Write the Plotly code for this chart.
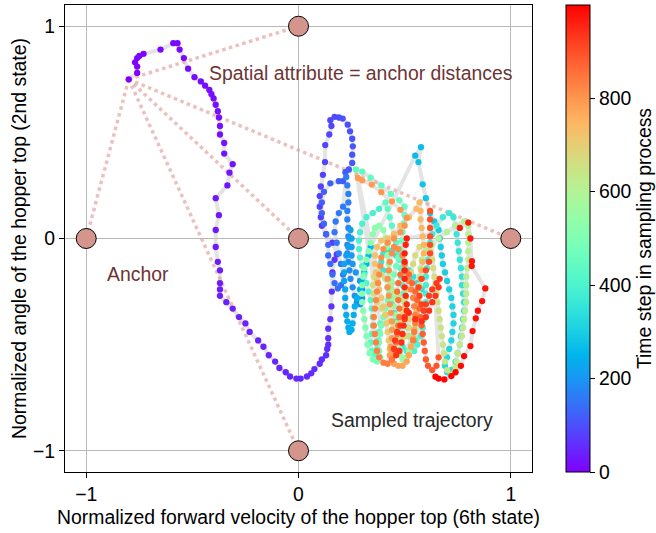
import numpy as np
import plotly.graph_objects as go

# ---------------- data ----------------
anchor_x = [-1, 0, 0, 0, 1]
anchor_y = [0, 1, 0, -1, 0]

# purple start of the trajectory
P_x = [-0.80,-0.76,-0.76,-0.77,-0.76,-0.75,-0.73,-0.65,-0.59,-0.57,-0.56,-0.54,-0.52,-0.49,-0.46,-0.44,-0.42,-0.41,-0.40,-0.39,
       -0.38,-0.375,-0.37,-0.37,-0.35,-0.35,-0.31,-0.325,-0.335,-0.39,-0.375,-0.39,-0.39,-0.38,-0.37,-0.37,-0.37,-0.37,-0.34,-0.31,
       -0.28,-0.25,-0.23,-0.19,-0.165,-0.14,-0.11,-0.09,-0.06,-0.04,-0.01,0.01,0.04,0.06,0.075,0.10,0.11,0.13,0.135,0.14,
       0.14,0.14,0.15,0.155,0.157,0.16,0.17,0.18]
P_y = [0.75,0.78,0.81,0.83,0.85,0.86,0.87,0.89,0.92,0.92,0.89,0.85,0.80,0.76,0.74,0.72,0.70,0.68,0.66,0.63,
       0.60,0.57,0.53,0.49,0.45,0.40,0.35,0.31,0.25,0.19,0.11,0.04,-0.04,-0.11,-0.15,-0.21,-0.24,-0.27,-0.30,-0.33,
       -0.37,-0.40,-0.44,-0.48,-0.51,-0.55,-0.58,-0.61,-0.63,-0.65,-0.66,-0.66,-0.65,-0.635,-0.615,-0.59,-0.57,-0.55,-0.52,-0.50,
       -0.47,-0.425,-0.38,-0.32,-0.25,-0.16,-0.10,-0.075]
P_t = [0,1,2,3,4,5,6,7,8,9,10,11,12,13,14,15,16,17,18,19,20,21,22,23,24,25,26,27,28,29,30,31,32,33,
       34,35,36,37,38,39,40,41,42,43,44,45,46,47,48,49,50,51,52,53,54,55,56,57,58,59,60,61,62,63,64,65,66,67]

# indigo loop
I1_x = [0.16,0.13,0.11,0.105,0.10,0.10,0.105,0.115,0.125,0.126,0.145,0.155,0.15,0.17,0.19,0.208,0.232,0.243,0.253,0.256,0.253,0.253,0.237,0.221]
I1_y = [-0.02,0.02,0.06,0.10,0.15,0.20,0.245,0.30,0.36,0.44,0.49,0.53,0.557,0.573,0.57,0.565,0.536,0.505,0.47,0.434,0.395,0.356,0.325,0.312]
I1_t = [68,70,72,74,76,78,80,82,84,86,88,90,92,94,96,98,100,102,104,106,108,110,112,114]

I2_x = [0.21,0.19,0.15,0.12,0.11,0.11,0.12,0.13,0.14,0.14,0.15,0.16,0.17,0.185,0.20,0.21,0.20,0.19,0.18,0.17,0.175,0.19,0.21]
I2_y = [0.27,0.27,0.26,0.22,0.17,0.12,0.07,0.02,-0.03,-0.08,-0.12,-0.17,-0.21,-0.235,-0.22,-0.17,-0.12,-0.07,-0.02,0.03,0.08,0.12,0.15]
I2_t = [116,118,120,122,124,126,128,130,132,134,136,138,140,142,144,146,148,150,152,154,156,158,160]

A_x = [0.225,0.23,0.235,0.235,0.23,0.23,0.235,0.235,0.23,0.23,0.235,0.24,0.245,0.255,0.265,0.275,0.29,0.30,0.30,0.29,0.27,0.255,0.25,0.25,0.25]
A_y = [0.29,0.25,0.21,0.17,0.13,0.09,0.05,0.01,-0.03,-0.07,-0.11,-0.15,-0.19,-0.23,-0.27,-0.30,-0.31,-0.28,-0.24,-0.20,-0.16,-0.12,-0.08,-0.04,0.0]
A_t = [162,164,166,168,170,172,174,176,178,180,182,184,186,188,190,192,194,196,198,200,202,204,206,208,210]

B_x = [0.245,0.24,0.235,0.225,0.215,0.215,0.215,0.22,0.22,0.22,0.225,0.23,0.235,0.24,0.25,0.255,0.26,0.265,0.275,0.29,0.30,0.31,0.32,0.33,0.34]
B_y = [0.04,0.0,-0.04,-0.08,-0.12,-0.16,-0.20,-0.24,-0.28,-0.32,-0.36,-0.39,-0.42,-0.44,-0.43,-0.40,-0.36,-0.32,-0.28,-0.24,-0.20,-0.16,-0.12,-0.08,-0.04]
B_t = [212,214,216,218,220,222,224,226,228,230,232,234,236,238,240,242,244,246,248,250,252,254,256,258,260]

C_x = [0.55,0.577,0.565,0.585,0.60]
C_y = [0.39,0.43,0.36,0.255,0.19]
C_t = [264,268,272,278,284]

H1_x = [0.62,0.64,0.66,0.665,0.67,0.675,0.68,0.69,0.70,0.71,0.72,0.725,0.73,0.73,0.725,0.72,0.71,0.70,0.69,0.70,0.72,0.74,0.75,0.76,0.765]
H1_y = [0.12,0.08,0.04,0.0,-0.04,-0.08,-0.12,-0.16,-0.20,-0.24,-0.28,-0.32,-0.36,-0.40,-0.44,-0.48,-0.52,-0.56,-0.60,-0.63,-0.62,-0.58,-0.54,-0.50,-0.46]
H1_t = [288,290,292,294,296,298,300,302,304,306,308,310,312,314,316,318,320,322,324,326,328,330,332,334,336]

H2_x = [0.77,0.775,0.78,0.78,0.775,0.77,0.77,0.765,0.76,0.755,0.75,0.745,0.74,0.73,0.71,0.68,0.65,0.63,0.62,0.615,0.61,0.605,0.60,0.60,0.60]
H2_y = [-0.42,-0.38,-0.34,-0.30,-0.26,-0.22,-0.18,-0.14,-0.10,-0.06,-0.02,0.02,0.06,0.10,0.12,0.10,0.06,0.02,-0.02,-0.06,-0.10,-0.14,-0.18,-0.22,-0.26]
H2_t = [338,340,342,344,346,348,350,352,354,356,358,360,362,364,366,368,370,372,374,376,378,380,382,384,386]

N3_x = [0.58,0.56,0.54,0.52,0.50,0.48,0.46,0.44,0.42,0.40,0.39,0.40,0.41,0.42,0.43,0.44,0.45,0.46,0.47,0.48,0.49,0.51,0.53,0.55]
N3_y = [-0.24,-0.21,-0.18,-0.15,-0.12,-0.10,-0.08,-0.06,-0.05,-0.07,-0.11,-0.15,-0.19,-0.23,-0.27,-0.31,-0.35,-0.39,-0.43,-0.47,-0.51,-0.53,-0.51,-0.48]
N3_t = [339,341,343,345,347,349,351,353,355,357,359,361,363,365,367,369,371,373,375,377,379,381,383,385]

H3_x = [0.60,0.595,0.59,0.585,0.575,0.56,0.545,0.53,0.52,0.515,0.51,0.505,0.50,0.495,0.49,0.485,0.48,0.475,0.47,0.46,0.45,0.44,0.43,0.42,0.41]
H3_y = [-0.30,-0.34,-0.38,-0.42,-0.46,-0.50,-0.53,-0.50,-0.46,-0.42,-0.38,-0.34,-0.30,-0.26,-0.22,-0.18,-0.14,-0.10,-0.06,-0.02,0.02,0.06,0.10,0.14,0.17]
H3_t = [388,390,392,394,396,398,400,402,404,406,408,410,412,414,416,418,420,422,424,426,428,430,432,434,436]

N1_x = [0.38,0.35,0.32,0.30,0.29,0.285,0.285,0.29,0.30,0.31,0.32,0.33,0.34,0.345,0.35,0.35,0.345,0.34,0.345,0.36,0.37,0.375,0.38,0.385]
N1_y = [0.14,0.12,0.10,0.07,0.03,-0.01,-0.05,-0.09,-0.13,-0.17,-0.21,-0.25,-0.29,-0.33,-0.37,-0.41,-0.45,-0.49,-0.53,-0.55,-0.52,-0.48,-0.44,-0.40]
N1_t = [389,391,393,395,397,399,401,403,405,407,409,411,413,415,417,419,421,423,425,427,429,431,433,435]

H4_x = [0.27,0.30,0.34,0.39,0.435,0.475,0.50,0.50,0.495,0.49,0.485,0.48,0.47,0.46,0.45,0.44,0.43,0.42,0.41,0.40,0.39,0.385,0.38,0.38,0.385]
H4_y = [0.325,0.315,0.287,0.25,0.21,0.18,0.15,0.11,0.07,0.03,-0.01,-0.05,-0.09,-0.13,-0.17,-0.21,-0.25,-0.29,-0.33,-0.37,-0.41,-0.45,-0.49,-0.53,-0.56]
H4_t = [438,440,442,444,446,448,450,452,454,456,458,460,462,464,466,468,470,472,474,476,478,480,482,484,486]

H5_x = [0.37,0.35,0.335,0.325,0.32,0.315,0.31,0.305,0.30,0.30,0.30,0.305,0.31,0.32,0.33,0.34,0.35,0.36,0.38,0.40,0.41,0.415,0.42,0.425,0.43]
H5_y = [-0.58,-0.57,-0.54,-0.50,-0.46,-0.42,-0.38,-0.34,-0.30,-0.26,-0.22,-0.18,-0.14,-0.10,-0.06,-0.02,0.02,0.05,0.06,0.04,0.0,-0.04,-0.08,-0.12,-0.16]
H5_t = [488,490,492,494,496,498,500,502,504,506,508,510,512,514,516,518,520,522,524,526,528,530,532,534,536]

H6_x = [0.435,0.44,0.445,0.45,0.455,0.46,0.465,0.47,0.475,0.48,0.49,0.50,0.51,0.52,0.53,0.54,0.55,0.555,0.56,0.565,0.565,0.57,0.57,0.575,0.58]
H6_y = [-0.20,-0.24,-0.28,-0.32,-0.36,-0.40,-0.44,-0.48,-0.52,-0.55,-0.57,-0.58,-0.56,-0.53,-0.50,-0.46,-0.42,-0.38,-0.34,-0.30,-0.26,-0.22,-0.18,-0.14,-0.10]
H6_t = [538,540,542,544,546,548,550,552,554,556,558,560,562,564,566,568,570,572,574,576,578,580,582,584,586]

H7_x = [0.60,0.63,0.66,0.70,0.74,0.78,0.80,0.80,0.80,0.80,0.80,0.795,0.79,0.79,0.79,0.79,0.785,0.78,0.775,0.77,0.76,0.75,0.745,0.74,0.735]
H7_y = [-0.06,-0.03,0.0,0.03,0.06,0.08,0.06,0.02,-0.02,-0.06,-0.10,-0.14,-0.18,-0.22,-0.26,-0.30,-0.34,-0.38,-0.42,-0.46,-0.50,-0.54,-0.58,-0.61,-0.63]
H7_t = [588,590,592,594,596,598,600,602,604,606,608,610,612,614,616,618,620,622,624,626,628,630,632,634,636]

H8_x = [0.72,0.70,0.69,0.685,0.68,0.675,0.67,0.665,0.66,0.655,0.65,0.645,0.64,0.635,0.63,0.62,0.60,0.57,0.55,0.54,0.53,0.52,0.51,0.505,0.50]
H8_y = [-0.64,-0.62,-0.58,-0.54,-0.50,-0.46,-0.42,-0.38,-0.34,-0.30,-0.26,-0.22,-0.18,-0.14,-0.10,-0.06,-0.03,-0.04,-0.08,-0.12,-0.16,-0.20,-0.24,-0.28,-0.32]
H8_t = [638,640,642,644,646,648,650,652,654,656,658,660,662,664,666,668,670,672,674,676,678,680,682,684,686]

N4_x = [0.49,0.47,0.45,0.43,0.41,0.39,0.37,0.355,0.35,0.355,0.37,0.39,0.41,0.43,0.45,0.47,0.49,0.51,0.52,0.52,0.51,0.50]
N4_y = [-0.29,-0.27,-0.25,-0.22,-0.19,-0.17,-0.16,-0.18,-0.22,-0.26,-0.30,-0.33,-0.36,-0.39,-0.42,-0.45,-0.47,-0.46,-0.42,-0.38,-0.35,-0.34]
N4_t = [643,645,647,649,651,653,655,657,659,661,663,665,667,669,671,673,675,677,679,681,683,685]

H9_x = [0.49,0.48,0.47,0.46,0.45,0.44,0.43,0.425,0.42,0.415,0.41,0.40,0.39,0.38,0.37,0.365,0.36,0.36,0.37,0.39,0.42,0.45,0.48,0.52,0.555]
H9_y = [-0.36,-0.40,-0.44,-0.48,-0.52,-0.55,-0.52,-0.48,-0.44,-0.40,-0.36,-0.32,-0.28,-0.24,-0.20,-0.16,-0.12,-0.08,-0.04,-0.01,0.0,0.02,0.06,0.10,0.14]
H9_t = [688,690,692,694,696,698,700,702,704,706,708,710,712,714,716,718,720,722,724,726,728,730,732,734,736]

H10_x = [0.57,0.575,0.575,0.58,0.585,0.59,0.59,0.585,0.58,0.575,0.57,0.565,0.56,0.555,0.55,0.545,0.54,0.53,0.52,0.51,0.49,0.47,0.45,0.44,0.435]
H10_y = [0.17,0.13,0.09,0.05,0.01,-0.03,-0.07,-0.11,-0.15,-0.19,-0.23,-0.27,-0.31,-0.35,-0.39,-0.43,-0.47,-0.51,-0.55,-0.58,-0.60,-0.60,-0.59,-0.56,-0.52]
H10_t = [738,740,742,744,746,748,750,752,754,756,758,760,762,764,766,768,770,772,774,776,778,780,782,784,786]

H11_x = [0.28,0.30,0.345,0.39,0.44,0.48,0.51,0.50,0.48,0.45,0.42,0.40,0.39,0.385,0.38,0.375,0.37,0.365,0.36,0.355,0.355,0.36,0.365,0.37,0.38,0.40,0.42]
H11_y = [0.285,0.274,0.254,0.218,0.175,0.135,0.097,0.06,0.03,0.0,-0.02,-0.05,-0.09,-0.13,-0.17,-0.21,-0.25,-0.29,-0.33,-0.37,-0.41,-0.45,-0.49,-0.53,-0.56,-0.585,-0.59]
H11_t = [788,790,792,794,796,798,800,802,804,806,808,810,812,814,816,818,820,822,824,826,828,830,832,834,836,838,840]

N2_x = [0.43,0.435,0.44,0.44,0.44,0.435,0.43,0.425,0.42,0.42,0.425,0.43,0.44,0.45,0.47,0.49,0.50,0.51,0.52,0.53,0.54,0.545,0.55,0.55,0.545,0.54]
N2_y = [-0.55,-0.51,-0.47,-0.43,-0.39,-0.35,-0.31,-0.27,-0.23,-0.19,-0.15,-0.11,-0.07,-0.04,-0.05,-0.08,-0.12,-0.16,-0.20,-0.24,-0.28,-0.32,-0.36,-0.40,-0.44,-0.48]
N2_t = [789,791,793,795,797,799,801,803,805,807,809,811,813,815,817,819,821,823,825,827,829,831,833,835,837,839]

H12_x = [0.44,0.455,0.46,0.465,0.47,0.475,0.475,0.47,0.465,0.47,0.48,0.50,0.52,0.535,0.55,0.56,0.57,0.575,0.58,0.585,0.59,0.595,0.60,0.61,0.63,0.65,0.66]
H12_y = [-0.57,-0.53,-0.49,-0.45,-0.41,-0.37,-0.33,-0.29,-0.25,-0.21,-0.17,-0.15,-0.17,-0.21,-0.25,-0.29,-0.33,-0.37,-0.41,-0.45,-0.49,-0.53,-0.57,-0.60,-0.62,-0.60,-0.56]
H12_t = [842,844,846,848,850,852,854,856,858,860,862,864,866,868,870,872,874,876,878,880,882,884,886,888,890,892,894]

H13_x = [0.62,0.62,0.62,0.62,0.62,0.62,0.615,0.60,0.58,0.565,0.57,0.58,0.59,0.60,0.615,0.63,0.65,0.665,0.66,0.645,0.63,0.615,0.60,0.58,0.55,0.52]
H13_y = [0.13,0.09,0.05,0.01,-0.03,-0.07,-0.11,-0.15,-0.19,-0.23,-0.27,-0.31,-0.34,-0.31,-0.27,-0.24,-0.21,-0.19,-0.23,-0.27,-0.30,-0.34,-0.37,-0.39,-0.38,-0.35]
H13_t = [896,898,900,902,904,906,908,910,912,914,916,918,920,922,924,926,928,930,932,934,936,938,940,942,944,946]

N5_x = [0.50,0.48,0.465,0.455,0.45,0.46,0.475,0.485,0.49,0.495,0.50,0.51]
N5_y = [-0.38,-0.41,-0.44,-0.48,-0.52,-0.55,-0.53,-0.49,-0.45,-0.41,-0.37,-0.34]
N5_t = [925,927,929,931,933,935,937,939,941,943,945,947]

H14_x = [0.51,0.505,0.50,0.50,0.50,0.50,0.50,0.505,0.51,0.76,0.80,0.81,0.817,0.816,0.88,0.865,0.845,0.835,0.82,0.81,0.78,0.765,0.74,0.72,0.687,0.66,0.645]
H14_y = [-0.31,-0.27,-0.23,-0.19,-0.15,-0.11,-0.07,-0.03,0.0,0.05,0.075,0.0,-0.107,-0.13,-0.235,-0.295,-0.34,-0.376,-0.436,-0.507,-0.554,-0.60,-0.63,-0.648,-0.664,-0.66,-0.651]
H14_t = [948,950,952,954,956,958,960,962,964,966,968,970,972,974,976,978,980,982,984,986,988,990,992,994,996,998,999]

x_tick_vals = [-1, 0, 1]
x_tick_text = ["\u22121", "0", "1"]
y_tick_vals = [-1, 0, 1]
y_tick_text = ["\u22121", "0", "1"]
cbar_ticks = [0, 200, 400, 600, 800]

# ---------------- assemble (path order) ----------------
segs = [(P_x, P_y, P_t), (I1_x, I1_y, I1_t), (I2_x, I2_y, I2_t), (A_x, A_y, A_t), (B_x, B_y, B_t),
        (C_x, C_y, C_t), (H1_x, H1_y, H1_t), (H2_x, H2_y, H2_t), (N3_x, N3_y, N3_t), (H3_x, H3_y, H3_t),
        (N1_x, N1_y, N1_t), (H4_x, H4_y, H4_t), (H5_x, H5_y, H5_t), (H6_x, H6_y, H6_t), (H7_x, H7_y, H7_t),
        (H8_x, H8_y, H8_t), (N4_x, N4_y, N4_t), (H9_x, H9_y, H9_t), (H10_x, H10_y, H10_t),
        (H11_x, H11_y, H11_t), (N2_x, N2_y, N2_t), (H12_x, H12_y, H12_t), (H13_x, H13_y, H13_t),
        (N5_x, N5_y, N5_t), (H14_x, H14_y, H14_t)]
traj_x, traj_y, traj_t = [], [], []
for sx, sy, st in segs:
    assert len(sx) == len(sy) == len(st)
    traj_x += sx
    traj_y += sy
    traj_t += st


def rainbow(v):
    r = min(1.0, abs(2 * v - 0.5))
    g = np.sin(np.pi * v)
    b = np.cos(np.pi * v / 2)
    return "rgb(%d,%d,%d)" % (round(255 * r), round(255 * max(g, 0)), round(255 * max(b, 0)))


cscale = [[float(v), rainbow(float(v))] for v in np.linspace(0, 1, 41)]

FONT = "Liberation Sans, Arial, sans-serif"
FS = 19.4

fig = go.Figure()

# trajectory line
fig.add_trace(go.Scatter(x=traj_x, y=traj_y, mode="lines",
                         line=dict(color="rgba(205,205,205,0.55)", width=4),
                         hoverinfo="skip", showlegend=False))

# dotted anchor-distance lines from the start point
dx, dy = [], []
for ax_, ay_ in zip(anchor_x, anchor_y):
    dx += [traj_x[0], ax_, None]
    dy += [traj_y[0], ay_, None]
fig.add_trace(go.Scatter(x=dx, y=dy, mode="lines",
                         line=dict(color="rgba(222,160,155,0.65)", width=3.5, dash="dot"),
                         hoverinfo="skip", showlegend=False))

# sampled points
fig.add_trace(go.Scatter(
    x=traj_x, y=traj_y, mode="markers",
    marker=dict(size=6.3, color=traj_t, colorscale=cscale, cmin=0, cmax=999,
                line=dict(width=0),
                colorbar=dict(x=(566 - 65) / 467, xanchor="left", y=0.5, yanchor="middle",
                              len=1, lenmode="fraction", thickness=24,
                              outlinecolor="black", outlinewidth=1,
                              xpad=0, ypad=0,
                              tickvals=cbar_ticks, ticks="outside", ticklen=5,
                              tickcolor="black",
                              tickfont=dict(family=FONT, size=FS, color="black"),
                              title=dict(text="Time step in sampling process", side="right",
                                         font=dict(family=FONT, size=FS, color="black")))),
    showlegend=False))

# anchors
fig.add_trace(go.Scatter(x=anchor_x, y=anchor_y, mode="markers",
                         marker=dict(size=20, color="#d4958d", line=dict(color="black", width=1)),
                         showlegend=False))

fig.add_annotation(x=-0.43, y=0.78, xref="x", yref="y", text="Spatial attribute = anchor distances",
                   showarrow=False, xanchor="left", yanchor="middle",
                   font=dict(family=FONT, size=FS, color="#6e3434"))
fig.add_annotation(x=-0.913, y=-0.165, xref="x", yref="y", text="Anchor",
                   showarrow=False, xanchor="left", yanchor="middle",
                   font=dict(family=FONT, size=FS, color="#6e3434"))
fig.add_annotation(x=0.146, y=-0.856, xref="x", yref="y", text="Sampled trajectory",
                   showarrow=False, xanchor="left", yanchor="middle",
                   font=dict(family=FONT, size=FS, color="#2a2a2a"))

axis_common = dict(range=[-1.1, 1.1], showgrid=True, gridcolor="#b8b8b8", gridwidth=1,
                   zeroline=False, showline=True, linecolor="black", linewidth=1.2, mirror=True,
                   ticks="outside", ticklen=5, tickcolor="black",
                   tickfont=dict(family=FONT, size=FS, color="black"))

fig.update_layout(
    width=656, height=533,
    margin=dict(l=65, r=124, t=5, b=61, autoexpand=False),
    paper_bgcolor="white", plot_bgcolor="white",
    font=dict(family=FONT, size=FS, color="black"),
    xaxis=dict(**axis_common, tickvals=x_tick_vals, ticktext=x_tick_text,
               title=dict(text="Normalized forward velocity of the hopper top (6th state)",
                          font=dict(family=FONT, size=FS, color="black"), standoff=6)),
    yaxis=dict(**axis_common, tickvals=y_tick_vals, ticktext=y_tick_text,
               title=dict(text="Normalized angle of the hopper top (2nd state)",
                          font=dict(family=FONT, size=FS, color="black"), standoff=1)),
)

fig.write_html("out.html")
